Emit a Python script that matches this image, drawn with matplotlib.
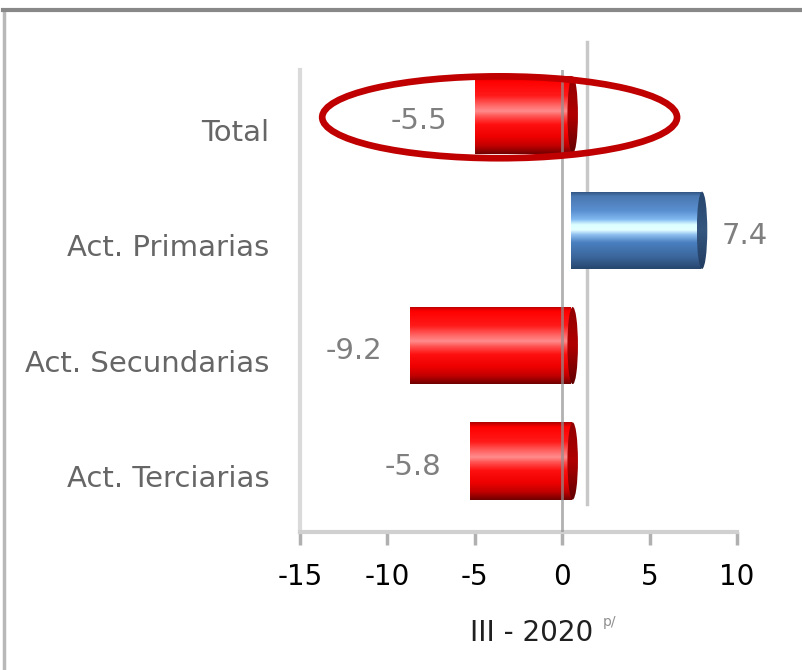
import matplotlib
matplotlib.use("Agg")
import matplotlib.pyplot as plt
import numpy as np
from matplotlib.colors import LinearSegmentedColormap
from matplotlib.lines import Line2D
from matplotlib.patches import Ellipse, Rectangle
from matplotlib.transforms import ScaledTranslation

# data
categories = ["Total", "Act. Primarias", "Act. Secundarias", "Act. Terciarias"]
values = [-5.5, 7.4, -9.2, -5.8]
value_labels = ["-5.5", "7.4", "-9.2", "-5.8"]
x_ticks = [-15, -10, -5, 0, 5, 10]
x_label = "III - 2020"
x_label_note = "p/"
highlight = "Total"

# cylinder shading, top -> bottom
RED_STOPS = [(0.0, "#b00000"), (0.06, "#ff0000"), (0.25, "#ff1a1a"), (0.38, "#ff6a6a"),
             (0.45, "#ff8c8c"), (0.52, "#ff5050"), (0.62, "#ff1010"), (0.78, "#ee0000"),
             (0.9, "#c00000"), (1.0, "#700000")]
BLUE_STOPS = [(0.0, "#2e4f7c"), (0.06, "#4a78b0"), (0.25, "#5a8fd0"), (0.36, "#80b8f0"),
              (0.43, "#dcffff"), (0.5, "#e4ffff"), (0.56, "#90c0f0"), (0.66, "#4a80c0"),
              (0.86, "#3a6498"), (1.0, "#27466e")]
RED_CAP = [(0.0, "#900000"), (0.5, "#b00000"), (1.0, "#600000")]
BLUE_CAP = [(0.0, "#27466e"), (0.5, "#34567f"), (1.0, "#223c60")]

DEPTH = 0.5      # 3d shift of the bars (data units)
BAR_H = 0.67
CAP_W = 0.6


def gradient(stops, n=160):
    cmap = LinearSegmentedColormap.from_list("cyl", stops)
    return cmap(np.linspace(0, 1, n))[:, None, :3]


fig = plt.figure(figsize=(8.02, 6.70), dpi=100)
ax = fig.add_axes([300 / 802, 138 / 670, 437 / 802, 462 / 670])
ypos = np.arange(len(categories))[::-1]

for yi, v in zip(ypos, values):
    stops, cap_stops = (RED_STOPS, RED_CAP) if v < 0 else (BLUE_STOPS, BLUE_CAP)
    left, right = min(v, 0) + DEPTH, max(v, 0) + DEPTH
    y0, y1 = yi - BAR_H / 2, yi + BAR_H / 2
    body = ax.imshow(gradient(stops), extent=[left, right, y0, y1], aspect="auto",
                     interpolation="bilinear", zorder=2)
    body.set_clip_path(Rectangle((left, y0), right - left, BAR_H, transform=ax.transData))
    # darker end cap on the right side
    cx = right + 0.1
    cap = ax.imshow(gradient(cap_stops), extent=[cx - CAP_W / 2, cx + CAP_W / 2, y0, y1],
                    aspect="auto", interpolation="bilinear", zorder=2.1)
    cap.set_clip_path(Ellipse((cx, yi), CAP_W, BAR_H, transform=ax.transData))

for yi, v, lab in zip(ypos, values, value_labels):
    if v < 0:
        ax.annotate(lab, xy=(v + DEPTH, yi), xytext=(-20, -4), textcoords="offset points",
                    ha="right", va="center", fontsize=21, color="#7f7f7f")
    else:
        ax.annotate(lab, xy=(v + DEPTH + 0.1 + CAP_W / 2, yi), xytext=(10, -4),
                    textcoords="offset points", ha="left", va="center", fontsize=21,
                    color="#7f7f7f")

ax.set_xlim(x_ticks[0], x_ticks[-1])
ax.set_ylim(-0.616, 3.39)

# zero line in front and its copy on the back wall
ax.axvline(0, color="#909090", lw=2, alpha=0.7, zorder=3)
back = ax.transData + ScaledTranslation(0.25, 0.28, fig.dpi_scale_trans)
ax.plot([0, 0], ax.get_ylim(), transform=back, color="#c8c8c8", lw=2.5, clip_on=False, zorder=1)

# highlight ring around the total
hi = ypos[categories.index(highlight)]
ax.add_patch(Ellipse((-3.58, hi - 0.02), 20.3, 0.71, fill=False, edgecolor="#c00000",
                     lw=4.8, clip_on=False, zorder=5))

ax.set_xticks(x_ticks)
ax.set_xticklabels([str(t) for t in x_ticks])
ax.set_yticks(ypos)
ax.set_yticklabels(categories)
ax.tick_params(axis="x", length=9, width=2.5, color="#b0b0b0", pad=13, labelsize=20,
               labelcolor="black")
ax.tick_params(axis="y", length=0, pad=22, labelsize=21, labelcolor="#666666")
for lbl in ax.get_yticklabels():
    lbl.set_transform(lbl.get_transform() + ScaledTranslation(0, -0.15, fig.dpi_scale_trans))

for side in ["top", "right"]:
    ax.spines[side].set_visible(False)
ax.spines["bottom"].set_color("#d0d0d0")
ax.spines["bottom"].set_linewidth(3)
ax.spines["left"].set_color("#dadada")
ax.spines["left"].set_linewidth(3)

fig.text(532 / 802, 1 - 633 / 670, x_label, ha="center", va="center", fontsize=20,
         color="#202020")
fig.text(603 / 802, 1 - 622 / 670, x_label_note, ha="left", va="center", fontsize=10,
         color="#909090")

# outer frame of the pasted chart
fig.add_artist(Line2D([4 / 802, 4 / 802], [0, 1 - 10 / 670], transform=fig.transFigure,
                      color="#b8b8b8", lw=2.5))
fig.add_artist(Line2D([3 / 802, 1], [1 - 10 / 670] * 2, transform=fig.transFigure,
                      color="#888888", lw=3))

fig.savefig("out.png", dpi=100)
